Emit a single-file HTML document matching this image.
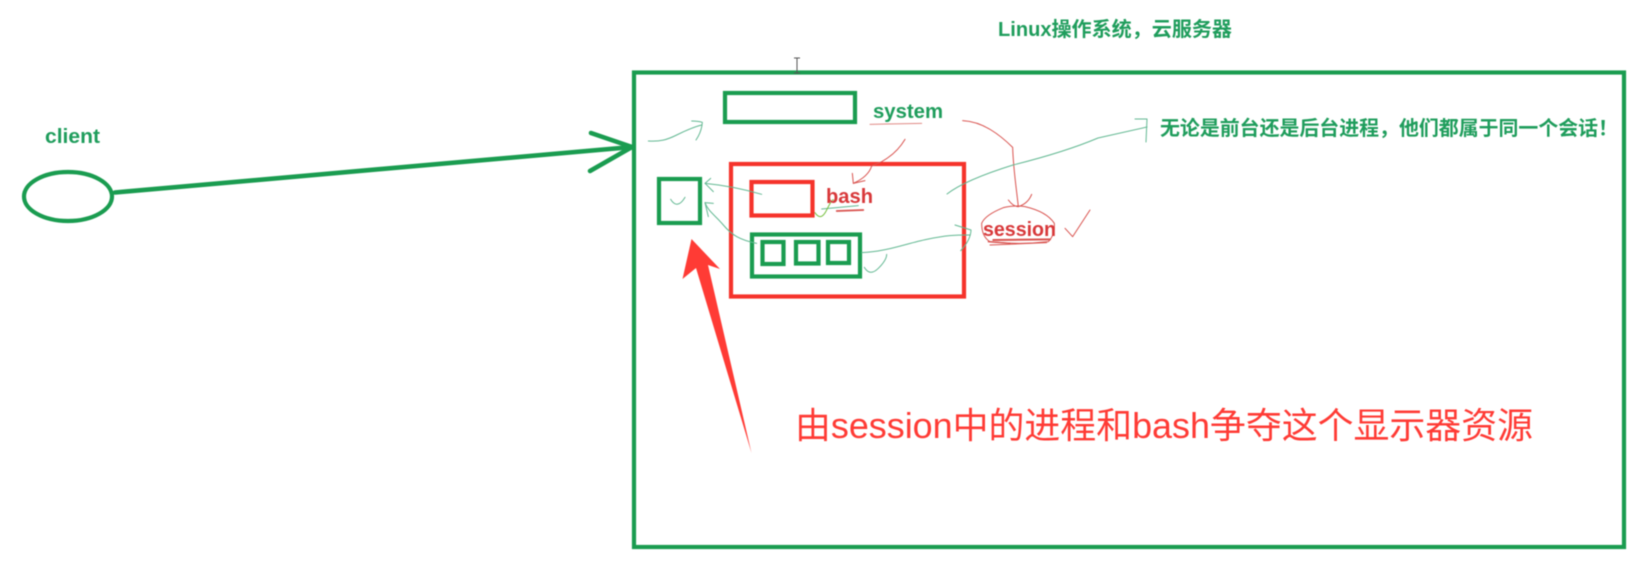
<!DOCTYPE html>
<html>
<head>
<meta charset="utf-8">
<style>
html,body{margin:0;padding:0;background:#fff;width:1638px;height:564px;overflow:hidden}
svg{display:block;filter:blur(.45px)}
text{font-family:"Liberation Sans","Noto Sans CJK SC",sans-serif}
</style>
</head>
<body>
<svg width="1638" height="564" viewBox="0 0 1638 564" xmlns="http://www.w3.org/2000/svg">
<rect width="1638" height="564" fill="#fff"/>

<!-- heavy shapes -->
<g fill="none" stroke="#1a9c50" stroke-width="4.2">
  <rect x="634" y="72.5" width="990" height="474.5"/>
  <rect x="725" y="93" width="130" height="29"/>
  <rect x="659" y="179" width="41" height="44"/>
  <rect x="752" y="234.5" width="108" height="42"/>
  <rect x="762.5" y="242" width="21" height="22"/>
  <rect x="796" y="242" width="22.5" height="21.5"/>
  <rect x="828" y="242" width="21" height="21"/>
  <ellipse cx="68" cy="196.5" rx="44" ry="24.5"/>
</g>
<g fill="none" stroke="#f5332b" stroke-width="4.2">
  <rect x="731" y="164" width="233" height="132.5"/>
  <rect x="751.5" y="182" width="61" height="33.5"/>
</g>

<!-- client arrow -->
<g fill="none" stroke="#1a9c50" stroke-width="4.6" stroke-linecap="round" stroke-linejoin="round">
  <line x1="115" y1="192.5" x2="632" y2="147"/>
  <polyline points="591,133 632,147 590,171"/>
</g>

<!-- big red arrow -->
<polygon fill="#ff3b35" points="691.5,239 720,269 708,265 751.5,453 696,268 682.5,279"/>

<!-- thin ink annotations in zoom coordinates -->
<g transform="translate(620,60) scale(.33333)" fill="none" stroke-linecap="round" stroke-linejoin="round" stroke-width="3">
  <g stroke="#62b892">
    <path d="M85 243 C120 245 140 240 170 225 S225 200 245 195"/>
    <path d="M215 183 Q235 183 247 187 Q245 215 228 240"/>
    <path d="M425 403 Q340 378 255 370"/>
    <path d="M272 355 L255 370 L280 395"/>
    <path d="M410 550 C360 540 335 525 310 495 S265 455 255 428"/>
    <path d="M280 430 L255 428 L265 470"/>
    <path d="M152 418 Q172 450 195 412"/>
    <path d="M605 447 L715 437"/>
    <path d="M725 578 C800 575 860 550 920 538 S1000 525 1050 525"/>
    <path d="M1005 495 L1053 510 Q1052 540 1022 572"/>
    <path d="M733 622 Q750 650 775 625 T800 583"/>
  </g>
  <path stroke="#7ac143" d="M585 458 Q603 485 620 450 T640 420"/>
  <g stroke="#d9534f">
    <path d="M750 193 L905 190" stroke="#e08a85"/>
    <path d="M855 238 Q830 280 785 305 L755 318 Q745 350 700 370"/>
    <path d="M697 340 L700 370 L735 362"/>
    <path d="M1028 182 C1090 185 1140 225 1178 262 C1180 330 1190 390 1195 440"/>
    <path d="M1165 420 Q1180 440 1195 440 Q1225 430 1235 403"/>
    <path d="M1085 490 Q1095 465 1150 443 Q1185 435 1215 440 Q1280 455 1303 490 Q1305 525 1285 545 Q1200 555 1110 545 Q1085 530 1085 490 Z"/>
    <path d="M1110 555 L1280 548"/>
    <path d="M1335 505 L1358 530 L1410 450"/>
    <path d="M650 453 L730 450" stroke-width="5"/>
    <path d="M1105 545 L1170 550" stroke-width="4"/>
    <path d="M1120 540 L1290 538" stroke-width="6"/>
  </g>
</g>

<!-- long green pointer -->
<g fill="none" stroke="#62b892" stroke-width="1" stroke-linecap="round" stroke-linejoin="round">
  <path d="M947 194 Q965 180 1013 165 Q1065 152 1098 138 L1147 127"/>
  <path d="M1135 119 L1147 119 L1146 142"/>
</g>

<!-- cursor -->
<g stroke="#555" stroke-width="1" fill="none">
  <path d="M794 58 L800 58 M797 58 L797 73 M794 73 L800 73"/>
</g>

<!-- labels -->
<text x="998" y="36" font-size="20" font-weight="700" fill="#1f9d5c" textLength="234" lengthAdjust="spacingAndGlyphs">Linux操作系统，云服务器</text>
<text x="45" y="143" font-size="20" font-weight="700" fill="#1f9d5c" textLength="55" lengthAdjust="spacingAndGlyphs">client</text>
<text x="873" y="118" font-size="20" font-weight="700" fill="#1f9d5c" textLength="70" lengthAdjust="spacingAndGlyphs">system</text>
<text x="826" y="203" font-size="20" font-weight="700" fill="#d8383a" textLength="47" lengthAdjust="spacingAndGlyphs">bash</text>
<text x="983" y="236" font-size="20" font-weight="700" fill="#d8383a" textLength="73" lengthAdjust="spacingAndGlyphs">session</text>
<text x="1160" y="135" font-size="20" font-weight="700" fill="#1f9d5c" textLength="458" lengthAdjust="spacingAndGlyphs">无论是前台还是后台进程，他们都属于同一个会话！</text>
<text x="795" y="438" font-size="36" fill="#ff3b35" textLength="738" lengthAdjust="spacingAndGlyphs">由session中的进程和bash争夺这个显示器资源</text>
</svg>
</body>
</html>
